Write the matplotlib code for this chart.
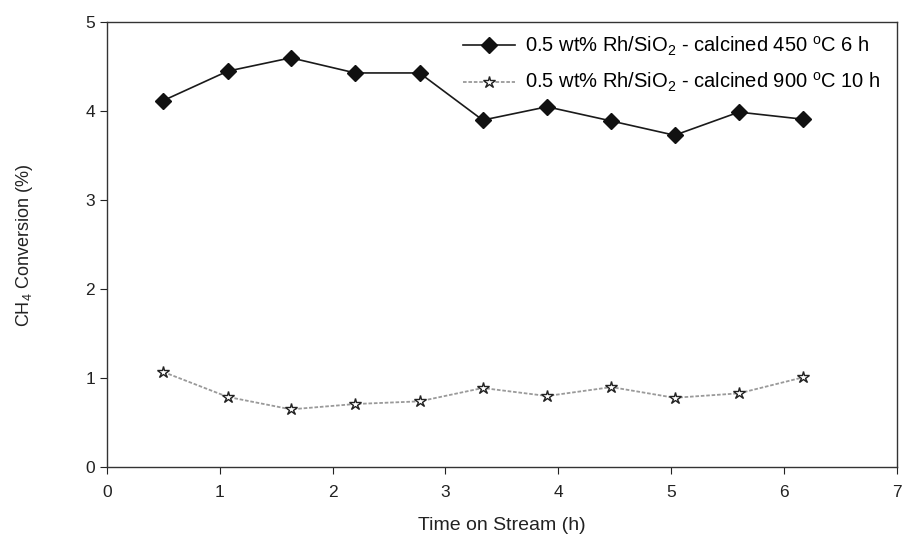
import matplotlib
matplotlib.use("Agg")
import matplotlib.pyplot as plt

plt.rcParams['font.family'] = ['Liberation Sans', 'DejaVu Sans']
plt.rcParams['mathtext.fontset'] = 'custom'
plt.rcParams['mathtext.rm'] = 'Liberation Sans'
plt.rcParams['mathtext.it'] = 'Liberation Sans'

# time on stream (h)
time_h = [0.5, 1.07, 1.63, 2.2, 2.77, 3.33, 3.9, 4.47, 5.03, 5.6, 6.17]

# CH4 conversion (%)
conv_450 = [4.12, 4.45, 4.60, 4.43, 4.43, 3.90, 4.05, 3.89, 3.73, 3.99, 3.91]
conv_900 = [1.07, 0.79, 0.65, 0.71, 0.74, 0.89, 0.80, 0.90, 0.78, 0.83, 1.01]

label_450 = r"0.5 wt% Rh/SiO$_2$ - calcined 450 $^{\mathrm{o}}$C 6 h"
label_900 = r"0.5 wt% Rh/SiO$_2$ - calcined 900 $^{\mathrm{o}}$C 10 h"

fig = plt.figure(figsize=(9.06, 5.42), dpi=100)
ax = fig.add_axes([0.118, 0.138, 0.872, 0.821])

ax.plot(time_h, conv_450, color='#1a1a1a', lw=1.2, marker='D', ms=8,
        mfc='#111111', mec='#111111', label=label_450)
ax.plot(time_h, conv_900, color='#9a9a9a', lw=1.3, ls=(0, (2, 1)), marker='*', ms=9,
        mfc='white', mec='#222222', mew=1.0, label=label_900)

ax.set_xlim(0, 7)
ax.set_ylim(0, 5)
ax.set_xticks(range(0, 8))
ax.set_yticks(range(0, 6))
ax.tick_params(direction='out', length=5, labelsize=12.5, colors='#222222')
ax.tick_params(axis='x', pad=8)

for s in ax.spines.values():
    s.set_color('#333333')
    s.set_linewidth(1.0)

ax.set_xlabel("Time on Stream (h)", fontsize=14, labelpad=12, color='#222222')
ax.set_ylabel(r"CH$_4$ Conversion (%)", fontsize=13, labelpad=36, color='#222222')

ax.legend(loc='upper right', bbox_to_anchor=(0.99, 0.99), frameon=False,
          fontsize=14.5, handlelength=2.6, handletextpad=0.5,
          borderaxespad=0.0, borderpad=0.4, labelspacing=0.65)

fig.savefig("out.png", dpi=100)
